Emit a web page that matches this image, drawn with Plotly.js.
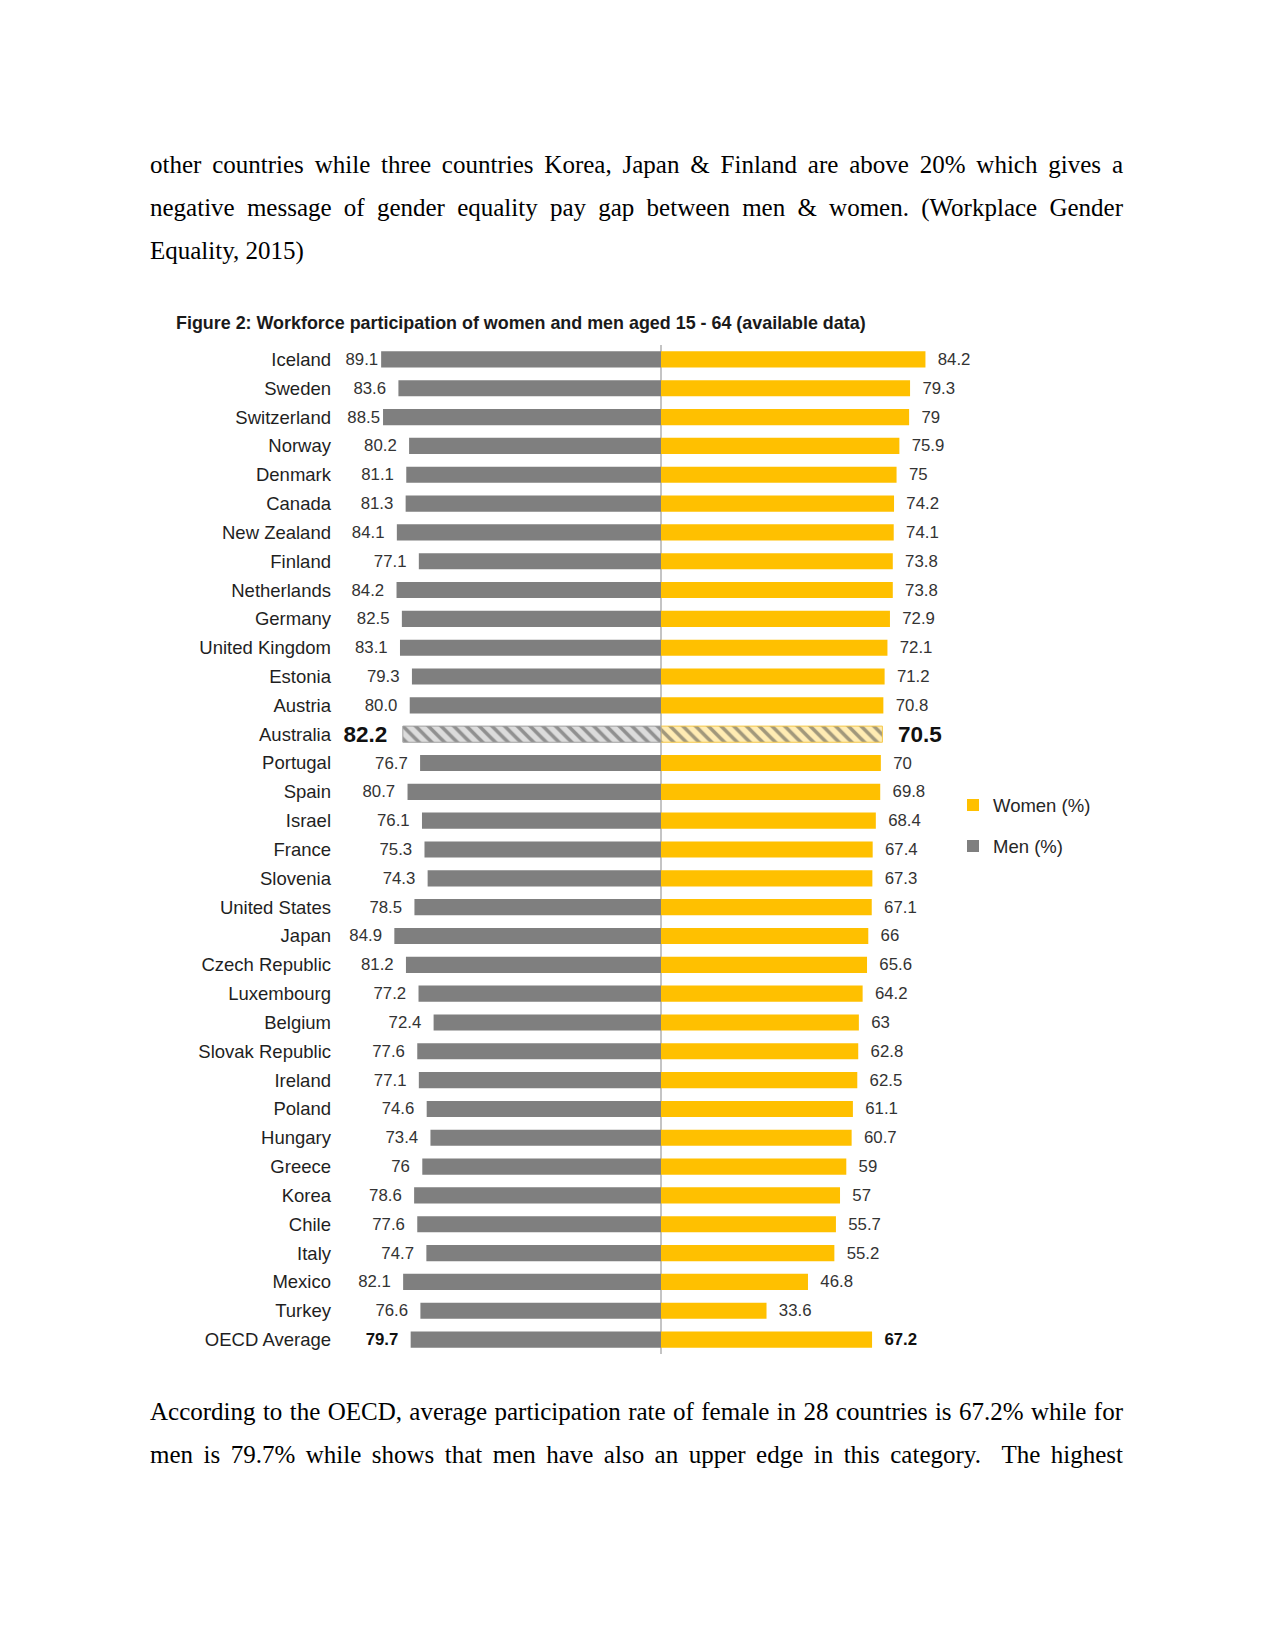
<!DOCTYPE html>
<html>
<head>
<meta charset="utf-8">
<script src="https://cdn.plot.ly/plotly-3.0.1.min.js"></script>
<style>
  html, body { margin: 0; padding: 0; background: #ffffff; }
  #page { position: relative; width: 1275px; height: 1650px; overflow: hidden; background: #fff; }
  .para { position: absolute; left: 150px; width: 973px; font-family: "Liberation Serif", "Times New Roman", serif; font-size: 25px; color: #000; }
  .ln { height: 43px; line-height: 43px; white-space: normal; }
  .just { text-align: justify; text-align-last: justify; }
  #chart { position: absolute; left: 0; top: 290px; width: 1275px; height: 1084px; }
</style>
</head>
<body>
<div id="page">
  <div class="para" style="top:143px;">
    <div class="ln just">other countries while three countries Korea, Japan &amp; Finland are above 20% which gives a</div>
    <div class="ln just">negative message of gender equality pay gap between men &amp; women. (Workplace Gender</div>
    <div class="ln">Equality, 2015)</div>
  </div>
  <div id="chart"></div>
  <div class="para" style="top:1390px;">
    <div class="ln just">According to the OECD, average participation rate of female in 28 countries is 67.2% while for</div>
    <div class="ln just">men is 79.7% while shows that men have also an upper edge in this category.&nbsp; The highest</div>
  </div>
</div>
<script>
const countries = ["Iceland","Sweden","Switzerland","Norway","Denmark","Canada","New Zealand","Finland","Netherlands","Germany","United Kingdom","Estonia","Austria","Australia","Portugal","Spain","Israel","France","Slovenia","United States","Japan","Czech Republic","Luxembourg","Belgium","Slovak Republic","Ireland","Poland","Hungary","Greece","Korea","Chile","Italy","Mexico","Turkey","OECD Average"];
const menValues = [89.1,83.6,88.5,80.2,81.1,81.3,84.1,77.1,84.2,82.5,83.1,79.3,80.0,82.2,76.7,80.7,76.1,75.3,74.3,78.5,84.9,81.2,77.2,72.4,77.6,77.1,74.6,73.4,76,78.6,77.6,74.7,82.1,76.6,79.7];
const womenValues = [84.2,79.3,79,75.9,75,74.2,74.1,73.8,73.8,72.9,72.1,71.2,70.8,70.5,70,69.8,68.4,67.4,67.3,67.1,66,65.6,64.2,63,62.8,62.5,61.1,60.7,59,57,55.7,55.2,46.8,33.6,67.2];
const menLabels = ["89.1","83.6","88.5","80.2","81.1","81.3","84.1","77.1","84.2","82.5","83.1","79.3","80.0","82.2","76.7","80.7","76.1","75.3","74.3","78.5","84.9","81.2","77.2","72.4","77.6","77.1","74.6","73.4","76","78.6","77.6","74.7","82.1","76.6","79.7"];
const womenLabels = ["84.2","79.3","79","75.9","75","74.2","74.1","73.8","73.8","72.9","72.1","71.2","70.8","70.5","70","69.8","68.4","67.4","67.3","67.1","66","65.6","64.2","63","62.8","62.5","61.1","60.7","59","57","55.7","55.2","46.8","33.6","67.2"];
const highlight = "Australia";
const average = "OECD Average";

const isHi = countries.map(c => c === highlight);
const isBold = countries.map(c => c === highlight || c === average);
const NB = "\u00a0\u00a0";
// long men bars leave no room for the usual gap before the label
const menTemplates = menValues.map(v => v > 88 ? "%{text}" : "%{text}" + NB);

const menTrace = {
  type: "bar", orientation: "h", name: "Men (%)",
  y: countries, x: menValues.map(v => -v),
  text: menLabels, texttemplate: menTemplates, textposition: "outside",
  cliponaxis: false, constraintext: "none",
  textfont: {
    family: "Liberation Sans, Arial, sans-serif",
    size: isHi.map(h => h ? 22.5 : 16.8),
    weight: isBold.map(b => b ? 700 : 400),
    color: isBold.map(b => b ? "#111111" : "#333333")
  },
  marker: {
    color: isHi.map(h => h ? "#dcdcdc" : "#7f7f7f"),
    line: { width: isHi.map(h => h ? 1 : 0), color: "#a0a0a0" },
    pattern: { shape: isHi.map(h => h ? "\\" : ""), fgcolor: "#8a8a8a", fillmode: "overlay", size: 9, solidity: 0.4 }
  },
  legendgroup: "m", hoverinfo: "y+text"
};
const womenTrace = {
  type: "bar", orientation: "h", name: "Women (%)",
  y: countries, x: womenValues,
  text: womenLabels, texttemplate: NB + "%{text}", textposition: "outside",
  cliponaxis: false, constraintext: "none",
  textfont: {
    family: "Liberation Sans, Arial, sans-serif",
    size: isHi.map(h => h ? 22.5 : 16.8),
    weight: isBold.map(b => b ? 700 : 400),
    color: isBold.map(b => b ? "#111111" : "#333333")
  },
  marker: {
    color: isHi.map(h => h ? "#ffecb3" : "#ffc000"),
    line: { width: isHi.map(h => h ? 1 : 0), color: "#f5c84a" },
    pattern: { shape: isHi.map(h => h ? "\\" : ""), fgcolor: "#ffc000", fillmode: "overlay", size: 9, solidity: 0.4 }
  },
  legendgroup: "w", hoverinfo: "y+text"
};

const layout = {
  width: 1275, height: 1084,
  margin: { l: 340, r: 315, t: 55, b: 20, pad: 0 },
  paper_bgcolor: "rgba(0,0,0,0)", plot_bgcolor: "rgba(0,0,0,0)",
  barmode: "overlay", bargap: 0.44,
  font: { family: "Liberation Sans, Arial, sans-serif", color: "#262626" },
  title: {
    text: "<b>Figure 2: Workforce participation of women and men aged 15 - 64 (available data)</b>",
    xref: "container", yref: "container", x: 176/1275, xanchor: "left", y: 1 - 33/1084, yanchor: "middle",
    font: { family: "Liberation Sans, Arial, sans-serif", size: 17.9, color: "#1a1a1a" }
  },
  xaxis: {
    range: [-102.2, 95.2], showgrid: false, showticklabels: false, ticks: "",
    zeroline: true, zerolinecolor: "#c4c4c4", zerolinewidth: 2, showline: false, fixedrange: true
  },
  yaxis: {
    type: "category", categoryorder: "array", categoryarray: countries, autorange: "reversed",
    showgrid: false, ticks: "", showline: false, zeroline: false, ticklabelstandoff: 8,
    tickfont: { family: "Liberation Sans, Arial, sans-serif", size: 18.5, color: "#1f1f1f" }, fixedrange: true
  },
  showlegend: true,
  legend: {
    x: (953 - 340) / 620, xanchor: "left", y: (1353.6 - 786) / 1009, yanchor: "top",
    traceorder: "grouped", tracegroupgap: 14, itemwidth: 30,
    font: { family: "Liberation Sans, Arial, sans-serif", size: 18.5, color: "#262626" },
    bgcolor: "rgba(0,0,0,0)", borderwidth: 0
  }
};

Plotly.newPlot("chart", [womenTrace, menTrace], layout, { displayModeBar: false, staticPlot: true });
</script>
</body>
</html>
